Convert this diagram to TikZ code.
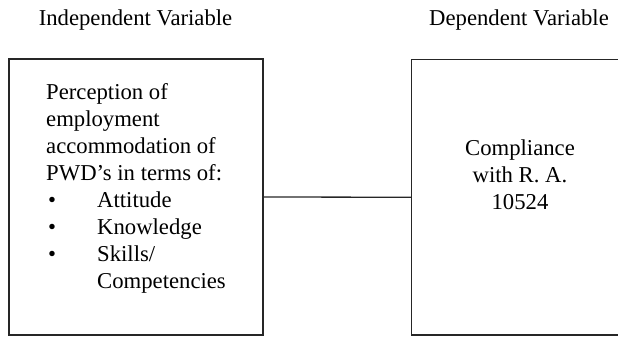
\documentclass[tikz,border=0pt]{standalone}
\usepackage{fontspec}
\setmainfont{Liberation Serif}
\usetikzlibrary{positioning}

\begin{document}
\begin{tikzpicture}[x=1pt,y=-1pt,
    varbox/.style={draw=black!85, line width=1.3pt, inner sep=0pt},
    vartext/.style={font=\fontsize{22.7}{27}\selectfont, inner sep=0pt},
    heading/.style={font=\fontsize{22.7}{27}\selectfont, inner sep=0pt, anchor=base}]
\clip (0,0) rectangle (618,337);
\node [varbox, minimum width=254pt, minimum height=276pt] (indep) at (136,197) {};
\node [varbox, minimum width=270pt, minimum height=275.5pt] (dep) at (546.5,197.25) {};
\node [heading] (indeplabel) at (135.5,26) {Independent Variable};
\node [heading] (deplabel) at (519,26) {Dependent Variable};
\node [vartext, anchor=north west, align=left] (indeptext) at (46,80.1)
  {\strut Perception of\\
   employment\\
   accommodation of\\
   PWD’s in terms of:\\
   \makebox[51pt][l]{\hspace{2pt}\textbullet}Attitude\\
   \makebox[51pt][l]{\hspace{2pt}\textbullet}Knowledge\\
   \makebox[51pt][l]{\hspace{2pt}\textbullet}Skills/\\
   \hspace{51pt}Competencies};
\node [vartext, anchor=north, align=center] (deptext) at (520,136.1)
  {\strut Compliance\\ with R. A.\\ 10524};
\draw [black!85, line width=1.3pt] (indep.east) -- (dep.west);
\end{tikzpicture}
\end{document}
